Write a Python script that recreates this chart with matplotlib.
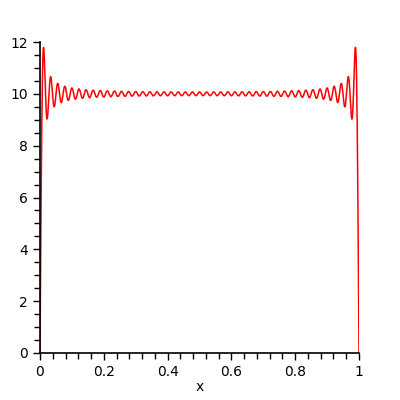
import numpy as np
import matplotlib.pyplot as plt
from matplotlib.ticker import MultipleLocator

# partial Fourier sine series of a constant on [0, 1]
level = 10.0
n_terms = 45          # odd harmonics 1, 3, ..., 89
x_range = [0, 1]
y_range = [0, 12]
x_ticks = [0, 0.2, 0.4, 0.6, 0.8, 1]
x_tick_labels = ['0', '0.2', '0.4', '0.6', '0.8', '1']
y_ticks = [0, 2, 4, 6, 8, 10, 12]

harmonics = 2 * np.arange(1, n_terms + 1) - 1
x = np.linspace(x_range[0], x_range[1], 900)
y = np.zeros_like(x)
for n in harmonics:
    y += 4 * level / (n * np.pi) * np.sin(n * np.pi * x)

fig = plt.figure(figsize=(4, 4), dpi=100)
ax = fig.add_axes([0.1, 0.1175, 0.7975, 0.7775])
ax.plot(x, y, color='red', lw=1.1)

ax.set_xlim(x_range)
ax.set_ylim(y_range)
ax.set_xticks(x_ticks)
ax.set_xticklabels(x_tick_labels)
ax.set_yticks(y_ticks)
ax.xaxis.set_minor_locator(MultipleLocator(0.04))
ax.yaxis.set_minor_locator(MultipleLocator(0.5))
ax.tick_params(which='major', length=5, width=1, labelsize=10, color='black')
ax.tick_params(which='minor', length=4, width=1)
ax.spines['top'].set_visible(False)
ax.spines['right'].set_visible(False)
ax.spines['left'].set_linewidth(1.2)
ax.spines['bottom'].set_linewidth(1.2)
ax.set_xlabel('x', fontsize=10, labelpad=1)

fig.savefig('out.png', dpi=100)
